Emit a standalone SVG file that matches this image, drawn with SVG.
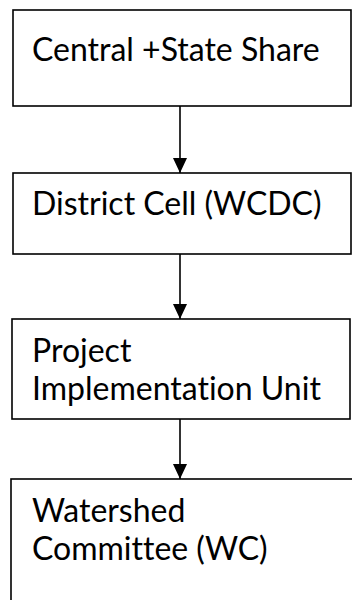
<svg xmlns="http://www.w3.org/2000/svg" width="352" height="600" viewBox="0 0 352 600">
  <style>
    .box { fill: #ffffff; stroke: #000000; stroke-width: 1.6; }
    .label { font-family: "Lato", "Liberation Sans", sans-serif; font-size: 32px; fill: #000000; font-variant-ligatures: none; font-feature-settings: "liga" 0, "dlig" 0; }
    .link { stroke: #000000; stroke-width: 1.6; fill: none; marker-end: url(#arrow); }
  </style>
  <defs>
    <marker id="arrow" markerUnits="userSpaceOnUse" markerWidth="16" markerHeight="14" refX="15" refY="7" orient="auto">
      <path d="M0,0 L15,7 L0,14 Z" fill="#000000"/>
    </marker>
  </defs>
  <rect width="352" height="600" fill="#ffffff"/>

  <g id="connectors">
    <line class="link" x1="180" y1="106" x2="180" y2="173"/>
    <line class="link" x1="180" y1="254" x2="180" y2="319"/>
    <line class="link" x1="180" y1="419" x2="180" y2="479"/>
  </g>

  <g id="node-central-state">
    <rect class="box" x="13" y="10" width="338" height="96"/>
    <text class="label" x="32" y="61">Central +State Share</text>
  </g>

  <g id="node-district-cell">
    <rect class="box" x="13" y="173" width="338" height="81"/>
    <text class="label" x="32" y="215">District Cell (WCDC)</text>
  </g>

  <g id="node-piu">
    <rect class="box" x="12" y="319" width="338" height="100"/>
    <text class="label" x="32" y="362">Project</text>
    <text class="label" x="32" y="400">Implementation Unit</text>
  </g>

  <g id="node-watershed-committee">
    <rect class="box" x="11" y="479" width="350" height="130"/>
    <text class="label" x="32" y="522">Watershed</text>
    <text class="label" x="32" y="560">Committee (WC)</text>
  </g>
</svg>
